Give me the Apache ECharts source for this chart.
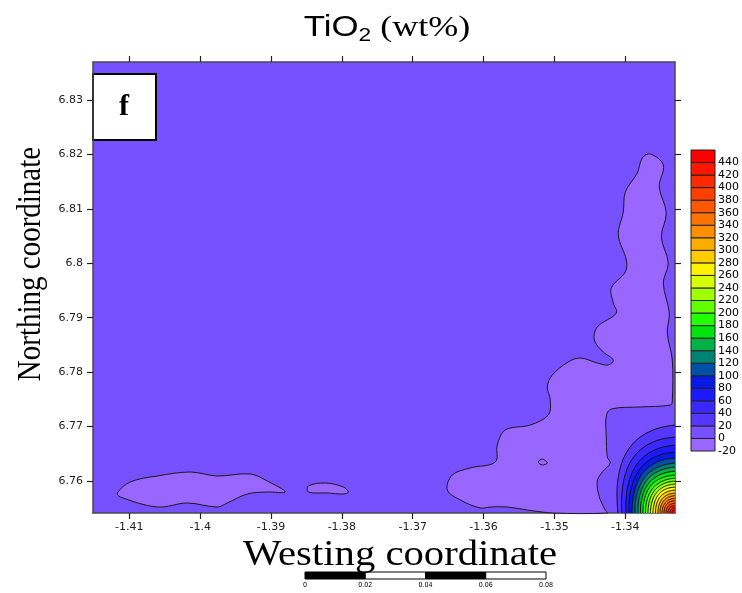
<!DOCTYPE html>
<html>
<head>
<meta charset="utf-8">
<script src="https://cdn.jsdelivr.net/npm/echarts@6/dist/echarts.min.js"></script>
<style>html,body{margin:0;padding:0;background:#fff;}#c{width:742px;height:593px;}</style>
</head>
<body>
<div id="c"></div>
<script>
// ---- axis extents & ticks ----
const xMin = -1.41512, xMax = -1.33299;
const yMin = 6.75412, yMax = 6.83698;
const xTicks = [-1.41, -1.40, -1.39, -1.38, -1.37, -1.36, -1.35, -1.34];
const yTicks = [6.76, 6.77, 6.78, 6.79, 6.80, 6.81, 6.82, 6.83];

// ---- texts ----
const titleMain = 'TiO', titleSub = '2', titleUnit = ' (wt%)';
const xTitle = 'Westing coordinate';
const yTitle = 'Northing coordinate';
const panelLabel = 'f';

// ---- colour bands (low value of each 20-wide band) ----
const bandLows = [-20, 0, 20, 40, 60, 80, 100, 120, 140, 160, 180, 200, 220, 240, 260, 280, 300, 320, 340, 360, 380, 400, 420, 440];
const bandColors = ['#9966FF', '#7750FF', '#5538FF', '#3A28FF', '#1C18FF', '#0A1AE6', '#0050A8', '#008272', '#00B248', '#00E40C', '#22FF00', '#62FF00', '#A2FF00', '#D6FF00', '#FFF200', '#FFCC00', '#FFAC00', '#FF8E00', '#FF7200', '#FF5800', '#FF4000', '#FF2A00', '#FF1600', '#FF0000'];
const colorbarTicks = [-20, 0, 20, 40, 60, 80, 100, 120, 140, 160, 180, 200, 220, 240, 260, 280, 300, 320, 340, 360, 380, 400, 420, 440];

// ---- patches with values below 0 (-20..0 band) ----
const patchEast = [
  [-1.33648, 6.82008], [-1.33464, 6.81806], [-1.33521, 6.81401], [-1.33422, 6.80924],
  [-1.33492, 6.80483], [-1.33394, 6.80005], [-1.33464, 6.79638], [-1.33380, 6.79086],
  [-1.33408, 6.78719], [-1.33337, 6.78223], [-1.33337, 6.77470], [-1.33360, 6.77396],
  [-1.33789, 6.77360], [-1.34198, 6.77323], [-1.34269, 6.77194], [-1.34269, 6.76827],
  [-1.34254, 6.76441], [-1.34212, 6.76331], [-1.34325, 6.76165], [-1.34396, 6.76000],
  [-1.34367, 6.75706], [-1.34283, 6.75467], [-1.34254, 6.75412], [-1.35017, 6.75412],
  [-1.35383, 6.75467], [-1.35666, 6.75522], [-1.35906, 6.75522], [-1.36047, 6.75504],
  [-1.36329, 6.75651], [-1.36512, 6.75835], [-1.36442, 6.76110], [-1.36188, 6.76239],
  [-1.35835, 6.76349], [-1.35807, 6.76661], [-1.35694, 6.76937], [-1.35341, 6.77029],
  [-1.35087, 6.77213], [-1.35059, 6.77488], [-1.35101, 6.77727], [-1.35031, 6.77947],
  [-1.34805, 6.78186], [-1.34635, 6.78260], [-1.34396, 6.78168], [-1.34240, 6.78131],
  [-1.34170, 6.78223], [-1.34311, 6.78370], [-1.34438, 6.78590], [-1.34396, 6.78829],
  [-1.34127, 6.79086], [-1.34170, 6.79270], [-1.34198, 6.79546], [-1.34000, 6.79840],
  [-1.33986, 6.80060], [-1.34099, 6.80520], [-1.34029, 6.80942], [-1.34000, 6.81310],
  [-1.33831, 6.81659], [-1.33761, 6.81934]
];
const patchWestA = [
  [-1.41169, 6.75780], [-1.40986, 6.75982], [-1.40605, 6.76092], [-1.40139, 6.76165],
  [-1.39758, 6.76092], [-1.39292, 6.76129], [-1.39053, 6.76000], [-1.38799, 6.75798],
  [-1.39053, 6.75798], [-1.39335, 6.75761], [-1.39617, 6.75596], [-1.39758, 6.75522],
  [-1.40181, 6.75596], [-1.40605, 6.75522], [-1.41127, 6.75706]
];
const patchWestB = [
  [-1.38474, 6.75908], [-1.38234, 6.75963], [-1.37980, 6.75890], [-1.37909, 6.75798],
  [-1.37980, 6.75761], [-1.38206, 6.75780], [-1.38474, 6.75798]
];
const patchDot = [
  [-1.35228, 6.76349], [-1.35172, 6.76404], [-1.35101, 6.76331], [-1.35172, 6.76294]
];
const patches = [patchEast, patchWestA, patchWestB, patchDot];

// ---- high-value contours in the south-east corner ----
const hotLevels  = [20, 40, 60, 80, 100, 120, 140, 160, 180, 200, 220, 240, 260, 280, 300, 320, 340, 360, 380, 400, 420, 440];
const hotRightY  = [6.77027, 6.76806, 6.76659, 6.76531, 6.76421, 6.76329, 6.76255, 6.76182, 6.76108, 6.76053, 6.75998, 6.75943, 6.75888, 6.75833, 6.75777, 6.75732, 6.75686, 6.75640, 6.75594, 6.75548, 6.75511, 6.75474];
const hotBottomX = [-1.34104, -1.34048, -1.33992, -1.33949, -1.33907, -1.33865, -1.33822, -1.33787, -1.33752, -1.33716, -1.33681, -1.33646, -1.33610, -1.33575, -1.33540, -1.33512, -1.33483, -1.33455, -1.33427, -1.33399, -1.33371, -1.33342];
const hotMidX    = [-1.33963, -1.33893, -1.33836, -1.33794, -1.33752, -1.33723, -1.33695, -1.33667, -1.33639, -1.33610, -1.33582, -1.33554, -1.33526, -1.33505, -1.33476, -1.33455, -1.33434, -1.33413, -1.33392, -1.33371, -1.33349, -1.33328];
const hotMidY    = [6.76567, 6.76421, 6.76310, 6.76218, 6.76145, 6.76071, 6.76016, 6.75961, 6.75915, 6.75869, 6.75833, 6.75796, 6.75759, 6.75713, 6.75676, 6.75640, 6.75603, 6.75575, 6.75539, 6.75511, 6.75484, 6.75456];

// ---- scale bar ----
const scaleTicks = [0, 0.02, 0.04, 0.06, 0.08];

const fmt2 = v => String(Math.round(v * 100) / 100);
const chart = echarts.init(document.getElementById('c'), null, {renderer: 'canvas'});

const frame = {show: true, onZero: false, lineStyle: {color: '#4a4a4a', width: 1.5}};
const tickOut = vals => ({show: true, inside: false, length: 6, customValues: vals, lineStyle: {color: '#222', width: 1.2}});

chart.setOption({
  backgroundColor: '#ffffff',
  animation: false,
  grid: [
    {left: 93, top: 62, width: 582, height: 451, show: true, backgroundColor: bandColors[1], borderWidth: 0, containLabel: false},
    {left: 691, top: 150, width: 24, height: 301, containLabel: false},
    {left: 305, top: 572, width: 241, height: 7, containLabel: false}
  ],
  xAxis: [
    {gridIndex: 0, type: 'value', min: xMin, max: xMax, position: 'bottom',
     axisLine: frame, axisTick: tickOut(xTicks), splitLine: {show: false},
     axisLabel: {customValues: xTicks, formatter: fmt2, fontFamily: 'DejaVu Sans', fontSize: 11, color: '#222', margin: 9}},
    {gridIndex: 0, type: 'value', min: xMin, max: xMax, position: 'top',
     axisLine: frame, axisTick: tickOut(xTicks), splitLine: {show: false}, axisLabel: {show: false}},
    {gridIndex: 1, type: 'value', min: 0, max: 1, show: false},
    {gridIndex: 2, type: 'value', min: 0, max: 0.08, interval: 0.02,
     axisLine: {show: false}, axisTick: {show: false}, splitLine: {show: false},
     axisLabel: {formatter: v => (v === 0 ? '0' : v.toFixed(2)), fontFamily: 'DejaVu Sans Condensed, DejaVu Sans', fontSize: 7, color: '#000', margin: 3}}
  ],
  yAxis: [
    {gridIndex: 0, type: 'value', min: yMin, max: yMax, position: 'left',
     axisLine: frame, axisTick: tickOut(yTicks), splitLine: {show: false},
     axisLabel: {customValues: yTicks, formatter: fmt2, fontFamily: 'DejaVu Sans', fontSize: 11, color: '#222', margin: 10}},
    {gridIndex: 0, type: 'value', min: yMin, max: yMax, position: 'right',
     axisLine: frame, axisTick: tickOut(yTicks), splitLine: {show: false}, axisLabel: {show: false}},
    {gridIndex: 1, type: 'value', min: -20, max: 460, position: 'right',
     axisLine: {show: false}, axisTick: {show: false}, splitLine: {show: false},
     axisLabel: {customValues: colorbarTicks, fontFamily: 'DejaVu Sans', fontSize: 11, color: '#000', margin: 3}},
    {gridIndex: 2, type: 'value', min: 0, max: 1, show: false}
  ],
  series: [
    {
      type: 'custom', xAxisIndex: 0, yAxisIndex: 0, z: 2,
      data: patches.map(p => p[0]),
      renderItem: (params, api) => {
        const pts = patches[params.dataIndex].map(p => api.coord(p));
        return {type: 'polygon', shape: {points: pts, smooth: 0.35},
                style: {fill: bandColors[0], stroke: '#1a1a1a', lineWidth: 1}};
      }
    },
    {
      type: 'custom', xAxisIndex: 0, yAxisIndex: 0, z: 3,
      data: hotLevels.map((lv, i) => [hotMidX[i], hotMidY[i], lv]),
      renderItem: (params, api) => {
        const i = params.dataIndex;
        const pR = api.coord([xMax, hotRightY[i]]);
        const pM = api.coord([hotMidX[i], hotMidY[i]]);
        const pB = api.coord([hotBottomX[i], yMin]);
        const corner = api.coord([xMax, yMin]);
        const c = [2 * pM[0] - (pR[0] + pB[0]) / 2, 2 * pM[1] - (pR[1] + pB[1]) / 2];
        const curve = [];
        for (let k = 0; k <= 40; k++) {
          const t = k / 40, u = 1 - t;
          curve.push([u * u * pR[0] + 2 * u * t * c[0] + t * t * pB[0],
                      u * u * pR[1] + 2 * u * t * c[1] + t * t * pB[1]]);
        }
        const col = bandColors[bandLows.indexOf(hotLevels[i])];
        return {type: 'group', children: [
          {type: 'polygon', shape: {points: [corner].concat(curve)}, style: {fill: col, stroke: null}},
          {type: 'polyline', shape: {points: curve}, style: {fill: null, stroke: '#111', lineWidth: 1}}
        ]};
      }
    },
    {
      type: 'custom', xAxisIndex: 2, yAxisIndex: 2, z: 2,
      data: bandLows.map(v => [0.5, v + 10]),
      renderItem: (params, api) => {
        const lo = bandLows[params.dataIndex];
        const p1 = api.coord([0, lo + 20]);
        const p2 = api.coord([1, lo]);
        return {type: 'rect', shape: {x: p1[0], y: p1[1], width: p2[0] - p1[0], height: p2[1] - p1[1]},
                style: {fill: bandColors[params.dataIndex], stroke: '#222', lineWidth: 1}};
      }
    },
    {
      type: 'custom', xAxisIndex: 3, yAxisIndex: 3, z: 2,
      data: scaleTicks.slice(0, -1).map((v, i) => [(v + scaleTicks[i + 1]) / 2, 0.5]),
      renderItem: (params, api) => {
        const i = params.dataIndex;
        const p1 = api.coord([scaleTicks[i], 1]);
        const p2 = api.coord([scaleTicks[i + 1], 0]);
        return {type: 'rect', shape: {x: p1[0], y: p1[1], width: p2[0] - p1[0], height: p2[1] - p1[1]},
                style: {fill: i % 2 === 0 ? '#000' : '#fff', stroke: '#000', lineWidth: 1}};
      }
    }
  ],
  graphic: [
    {type: 'text', x: 387, y: 28, scaleX: 1.2, z: 10,
     style: {text: '{a|' + titleMain + '}{s|' + titleSub + '}{b|' + titleUnit + '}', align: 'center', verticalAlign: 'middle',
       rich: {
         a: {fontFamily: 'Liberation Sans', fontSize: 29, fontWeight: 'normal', fill: '#000'},
         s: {fontFamily: 'Liberation Sans', fontSize: 19, fontWeight: 'normal', fill: '#000', padding: [15, 0, 0, 0]},
         b: {fontFamily: 'Liberation Serif', fontSize: 30, fontWeight: 'normal', fill: '#000'}
       }}},
    {type: 'text', x: 400, y: 556, scaleX: 1.13, z: 10,
     style: {text: xTitle, fontFamily: 'Liberation Serif', fontSize: 36, fill: '#000', align: 'center', verticalAlign: 'middle'}},
    {type: 'text', x: 31, y: 264, rotation: Math.PI / 2, scaleY: 1.15, z: 10,
     style: {text: yTitle, fontFamily: 'Liberation Serif', fontSize: 29, fill: '#000', align: 'center', verticalAlign: 'middle'}},
    {type: 'group', left: 92, top: 73, z: 10, children: [
      {type: 'rect', shape: {x: 0, y: 0, width: 63, height: 66}, style: {fill: '#fff', stroke: '#000', lineWidth: 2}},
      {type: 'text', x: 31, y: 33, style: {text: panelLabel, fontFamily: 'Liberation Serif', fontWeight: 'bold', fontSize: 30, fill: '#000', align: 'center', verticalAlign: 'middle'}}
    ]}
  ]
});
</script>
</body>
</html>
